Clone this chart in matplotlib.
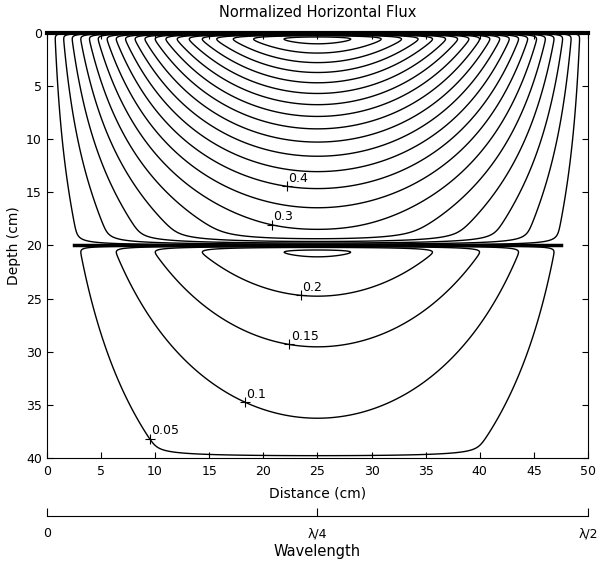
import numpy as np
import matplotlib
matplotlib.use('Agg')
import matplotlib.pyplot as plt

plt.rcParams['font.family'] = ['DejaVu Sans']

# ---- values ----
dist_max = 50.0                     # cm, half a wavelength
layer_top = [0.0, 20.0]             # cm
layer_bot = [20.0, 40.0]

# depth where a contour crosses the centre line (x ~ 25 cm)
upper_depth = [0.8, 1.9, 2.8, 3.9, 4.9, 5.8, 6.9, 7.9, 9.0, 10.2, 11.6, 12.7, 14.3, 16.5, 19.0]
upper_level = [1.0, 0.95, 0.9, 0.85, 0.8, 0.75, 0.7, 0.65, 0.6, 0.55, 0.5, 0.45, 0.4, 0.35, 0.3]
lower_depth = [21.1, 24.8, 29.4, 36.3]
lower_level = [0.25, 0.2, 0.15, 0.1]

# contour levels drawn in each layer
upper_levels = [0.05, 0.1, 0.15, 0.2, 0.25, 0.3, 0.35, 0.4, 0.45, 0.5,
                0.55, 0.6, 0.65, 0.7, 0.75, 0.8, 0.85, 0.9, 0.95, 1.0]
lower_levels = [0.05, 0.1, 0.15, 0.2, 0.25]

# labelled contours: level, x of the '+' mark, layer
label_level = [0.4, 0.3, 0.2, 0.15, 0.1, 0.05]
label_x = [22.2, 20.8, 23.5, 22.4, 18.3, 9.5]
label_layer = [0, 0, 1, 1, 1, 1]

# thin layers where the flux drops to zero (cm): surface, interface above, interface below, bottom
bl_width = [0.12, 0.3, 0.13, 0.25]

wave_ticks = [0, 0.25, 0.5]
wave_labels = ['0', '\u03bb/4', '\u03bb/2']

# ---- field ----
p_up = np.polyfit(upper_depth, upper_level, 2)
p_lo = np.polyfit(lower_depth, np.log(lower_level), 1)

def profile(layer, d):
	if layer == 0:
		g = np.polyval(p_up, d)
		bl = (1 - np.exp(-(d - layer_top[0]) / bl_width[0])) * (1 - np.exp(-(layer_bot[0] - d) / bl_width[1]))
	else:
		g = np.exp(np.polyval(p_lo, d))
		bl = (1 - np.exp(-(d - layer_top[1]) / bl_width[2])) * (1 - np.exp(-(layer_bot[1] - d) / bl_width[3]))
	return g * bl

def field(layer, x, d):
	X, D = np.meshgrid(x, d)
	return np.sin(np.pi * X / dist_max) * profile(layer, D)

x = np.linspace(0, dist_max, 1001)
s = 0.5 - 0.5 * np.cos(np.pi * np.linspace(0, 1, 1200))   # packed near the layer edges
depths = [layer_top[i] + (layer_bot[i] - layer_top[i]) * s for i in range(2)]

fig = plt.figure(figsize=(6.0, 5.65), dpi=100)
ax = fig.add_axes([0.078, 0.189, 0.902, 0.753])

for i, lev in enumerate([upper_levels, lower_levels]):
	ax.contour(x, depths[i], field(i, x, depths[i]), levels=lev, colors='k', linewidths=1.0)
ax.axhline(layer_bot[0], xmin=0.05, xmax=0.95, color='k', lw=2.5)   # layer interface

# '+' marks and labels on the contours
for lev, xl, layer in zip(label_level, label_x, label_layer):
	d = depths[layer]
	col = np.sin(np.pi * xl / dist_max) * profile(layer, d)
	k0 = np.argmax(col)
	k = k0 + np.argmax(col[k0:] < lev)
	dl = np.interp(lev, [col[k], col[k - 1]], [d[k], d[k - 1]])
	ax.plot(xl, dl, '+', color='k', ms=7, mew=0.8)
	ax.annotate('%g' % lev, (xl, dl), xytext=(1, 1), textcoords='offset points',
		fontsize=9, ha='left', va='bottom')

ax.set_xlim(0, dist_max)
ax.set_ylim(40, 0)
ax.set_xticks(range(0, 51, 5))
ax.set_yticks(range(0, 41, 5))
ax.tick_params(direction='in', top=True, right=True, labelsize=9, length=4, width=0.8)
ax.tick_params(axis='x', pad=5)
for sp in ax.spines.values():
	sp.set_linewidth(0.8)
ax.spines['top'].set_linewidth(3)
ax.set_title('Normalized Horizontal Flux', fontsize=10.5, pad=11)
ax.set_xlabel('Distance (cm)', fontsize=10, labelpad=6)
ax.set_ylabel('Depth (cm)', fontsize=10, labelpad=4)

# wavelength scale under the plot
ax2 = fig.add_axes([0.078, 0.0867, 0.902, 0.0])
ax2.patch.set_visible(False)
ax2.set_xlim(0, 0.5)
ax2.set_xticks(wave_ticks)
ax2.set_xticklabels(wave_labels)
ax2.set_yticks([])
for side in ['top', 'left', 'right']:
	ax2.spines[side].set_visible(False)
ax2.spines['bottom'].set_linewidth(0.8)
ax2.tick_params(direction='in', length=6, width=0.8, labelsize=9, pad=8)
ax2.set_xlabel('Wavelength', fontsize=10.5, labelpad=3)

fig.savefig('out.png', dpi=100)
